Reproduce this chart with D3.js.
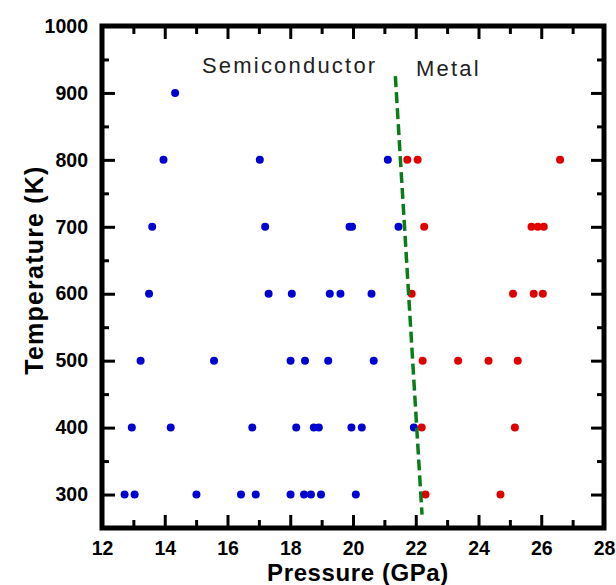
<!DOCTYPE html>
<html>
<head>
<meta charset="utf-8">
<script src="https://cdn.jsdelivr.net/npm/d3@7"></script>
<style>
  body { margin: 0; background: #fff; }
  svg { display: block; }
  .tick text { font-family: "Liberation Sans", Arial, sans-serif; font-weight: bold; font-size: 19.5px; fill: #000; }
</style>
</head>
<body>
<svg id="chart" width="616" height="585"></svg>
<script>
// Semiconductor (blue) points: [pressure GPa, temperature K]
const semiconductorPoints = [
    [14.33, 900],
    [13.96, 800], [17.03, 800], [21.11, 800],
    [13.60, 700], [17.20, 700], [19.89, 700], [19.97, 700], [21.45, 700],
    [13.50, 600], [17.31, 600], [18.05, 600], [19.26, 600], [19.60, 600], [20.59, 600],
    [13.23, 500], [15.57, 500], [18.01, 500], [18.47, 500], [19.21, 500], [20.66, 500],
    [12.95, 400], [14.19, 400], [16.79, 400], [18.19, 400], [18.75, 400], [18.91, 400],
    [19.95, 400], [20.28, 400], [21.94, 400],
    [12.72, 300], [13.04, 300], [15.01, 300], [16.43, 300], [16.90, 300], [18.01, 300],
    [18.44, 300], [18.66, 300], [18.98, 300], [20.09, 300]
];

// Metal (red) points
const metalPoints = [
    [21.73, 800], [22.06, 800], [26.60, 800],
    [22.27, 700], [25.69, 700], [25.89, 700], [26.08, 700],
    [21.87, 600], [25.10, 600], [25.76, 600], [26.05, 600],
    [22.22, 500], [23.35, 500], [24.32, 500], [25.25, 500],
    [22.19, 400], [25.16, 400],
    [22.31, 300], [24.70, 300]
];

// Dashed phase boundary
const boundaryPoints = [[21.35, 925], [22.20, 270]];

const xMajor = d3.range(12, 29, 2);
const xMinor = d3.range(13, 28, 2);
const yMajor = d3.range(300, 1001, 100);
const yMinor = d3.range(350, 1000, 100);

const svg = d3.select("#chart");
const plotLeft = 102, plotRight = 604, plotTop = 26, plotBottom = 528;

const x = d3.scaleLinear().domain([12, 28]).range([plotLeft, plotRight]);
const y = d3.scaleLinear().domain([250, 1000]).range([plotBottom, plotTop]);

// tick helper: inward ticks, no domain path
const addAxis = (axis, transform, withLabels) => {
    const g = svg.append("g").attr("transform", transform).call(axis);
    g.select(".domain").remove();
    g.selectAll(".tick line").attr("stroke", "#000").attr("stroke-width", 3);
    if (!withLabels) g.selectAll(".tick text").remove();
    return g;
};

// bottom
addAxis(d3.axisBottom(x).tickValues(xMajor).tickSize(-13).tickPadding(13).tickFormat(d3.format("d")),
    `translate(0,${plotBottom})`, true);
addAxis(d3.axisBottom(x).tickValues(xMinor).tickSize(-8), `translate(0,${plotBottom})`, false);
// top
addAxis(d3.axisTop(x).tickValues(xMajor).tickSize(-13), `translate(0,${plotTop})`, false);
addAxis(d3.axisTop(x).tickValues(xMinor).tickSize(-8), `translate(0,${plotTop})`, false);
// left
addAxis(d3.axisLeft(y).tickValues(yMajor).tickSize(-13).tickPadding(14).tickFormat(d3.format("d")),
    `translate(${plotLeft},0)`, true);
addAxis(d3.axisLeft(y).tickValues(yMinor).tickSize(-7), `translate(${plotLeft},0)`, false);
// right
addAxis(d3.axisRight(y).tickValues(yMajor).tickSize(-13), `translate(${plotRight},0)`, false);
addAxis(d3.axisRight(y).tickValues(yMinor).tickSize(-7), `translate(${plotRight},0)`, false);

// frame
svg.append("rect")
    .attr("x", plotLeft).attr("y", plotTop)
    .attr("width", plotRight - plotLeft).attr("height", plotBottom - plotTop)
    .attr("fill", "none").attr("stroke", "#000").attr("stroke-width", 5);

// points
svg.append("g").selectAll("circle")
    .data(semiconductorPoints)
    .join("circle")
    .attr("cx", d => x(d[0]))
    .attr("cy", d => y(d[1]))
    .attr("r", 4)
    .attr("fill", "#0000d0");

svg.append("g").selectAll("circle")
    .data(metalPoints)
    .join("circle")
    .attr("cx", d => x(d[0]))
    .attr("cy", d => y(d[1]))
    .attr("r", 4)
    .attr("fill", "#e00000");

// boundary line
svg.append("path")
    .datum(boundaryPoints)
    .attr("d", d3.line().x(d => x(d[0])).y(d => y(d[1])))
    .attr("fill", "none")
    .attr("stroke", "#0a7d1a")
    .attr("stroke-width", 3.5)
    .attr("stroke-dasharray", "11,5");

// region labels
svg.append("text")
    .attr("x", 202).attr("y", 73)
    .attr("font-family", "Liberation Sans, Arial, sans-serif")
    .attr("font-size", 22)
    .attr("letter-spacing", 2.2)
    .attr("fill", "#222")
    .text("Semiconductor");

svg.append("text")
    .attr("x", 416).attr("y", 76)
    .attr("font-family", "Liberation Sans, Arial, sans-serif")
    .attr("font-size", 22)
    .attr("letter-spacing", 2.2)
    .attr("fill", "#222")
    .text("Metal");

// axis titles
svg.append("text")
    .attr("x", 358).attr("y", 581)
    .attr("text-anchor", "middle")
    .attr("font-family", "Liberation Sans, Arial, sans-serif")
    .attr("font-weight", "bold")
    .attr("font-size", 24)
    .attr("letter-spacing", 0.6)
    .text("Pressure (GPa)");

svg.append("text")
    .attr("transform", "translate(43,270) rotate(-90)")
    .attr("text-anchor", "middle")
    .attr("font-family", "Liberation Sans, Arial, sans-serif")
    .attr("font-weight", "bold")
    .attr("font-size", 25)
    .attr("letter-spacing", 1.2)
    .text("Temperature (K)");
</script>
</body>
</html>
